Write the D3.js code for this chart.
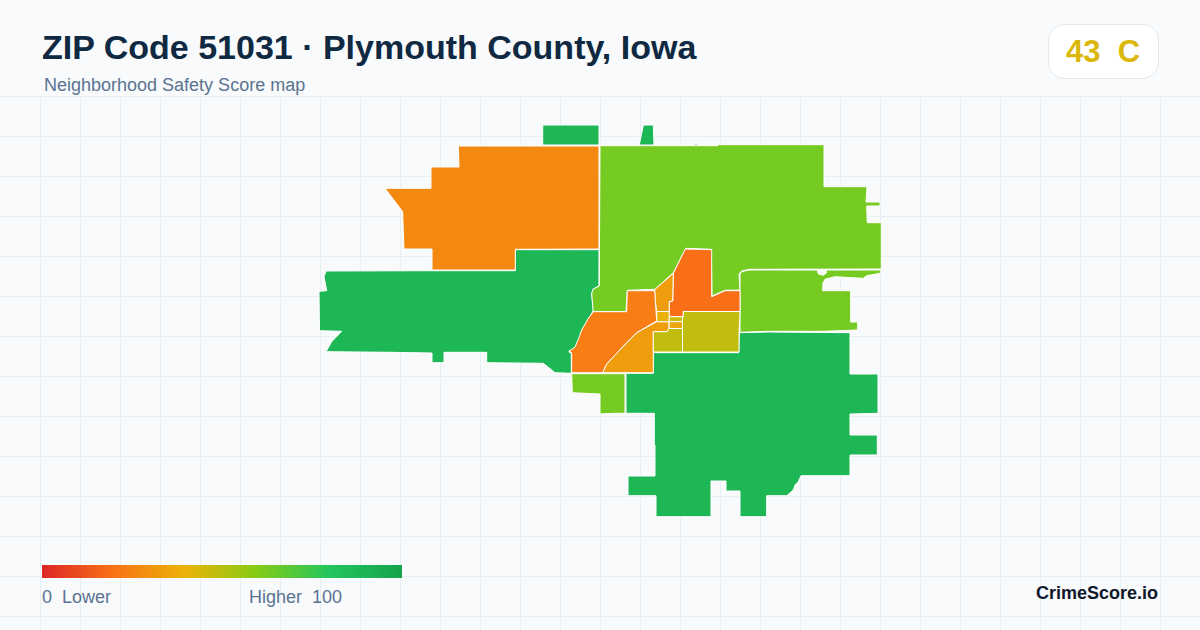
<!DOCTYPE html>
<html>
<head>
<meta charset="utf-8">
<title>ZIP Code 51031</title>
<script src="https://cdn.jsdelivr.net/npm/d3@7"></script>
<style>
  html, body { margin: 0; padding: 0; background: #f8fafc; }
  svg { display: block; }
  text { font-family: "Liberation Sans", Arial, sans-serif; white-space: pre; }
</style>
</head>
<body>
<script>
  // block group outlines in map units
  var westGreen = [[326,271],[432,270.7],[515.3,270.7],[515.3,249.7],[599,249.7],[599,286],[593.3,289],[591.7,293.3],[593.3,310],[592.7,311.7],[588.3,320],[581.7,330],[579.3,341.7],[576.7,346.7],[568.7,351.7],[571.3,353.3],[571.3,373.3],[555,372.7],[543.3,363.3],[486.7,362.7],[486.7,352.3],[444,352.3],[444,362.7],[432,362.7],[432,353],[390,352.3],[326,351.7],[331.7,341.7],[341.7,331.3],[319.5,330.7],[319,291.3],[326.7,290.7],[324,276.7]];
  var northWestOrange = [[458.3,146],[599,146],[599,249],[515.3,249.3],[515.3,270],[432,270],[432,249],[404,249],[403.3,231.7],[402.7,211.7],[385,188.3],[431,188.3],[431,167],[459,167]];
  var topTabLeft = [[542.7,125],[599,125],[599,145],[542.7,145]];
  var topTabRight = [[643.3,125],[653.3,125],[654,145],[639.3,145]];
  var topSpeck = [[694,145],[698,145],[697,143.6],[695,143.6]];
  var northLime = [[600,145.7],[717.7,145.7],[718.3,144.7],[824,144.7],[824,186.7],[867,186.7],[866,202],[880,202],[880,206],[866.7,206],[867.3,222.7],[881.3,222.7],[881.3,269],[749.3,269.3],[741.7,271],[739,274],[740,290],[725,290.3],[712,296],[711.3,249.3],[686,248.3],[673.3,272.7],[655,289.3],[627.3,290.3],[626,311.7],[593.3,311.7],[593,310],[591.7,293.3],[593.3,289],[599.3,286]];
  var eastLime = [[740,274],[742,271.5],[749.3,270],[817.3,270],[818.3,274],[823.3,275.3],[826.7,272.7],[826,270],[881.3,270],[880,273.3],[866.7,275.7],[863.3,278.3],[845,277.3],[835,276.7],[825,279.3],[823,283],[822.7,290.7],[850.7,290.7],[850.7,322],[857.7,322],[857.7,330],[823,331.3],[768.3,331.3],[740,332.3],[740,311.7]];
  var northCenterOrange = [[685.3,249],[711.7,249.7],[711.7,296.7],[725,290.7],[740,290.7],[740,311.5],[683.3,311.5],[683.3,316.7],[669.2,316.7],[669.2,301.7],[672.7,301],[673.3,273.3]];
  var wedgeOrange = [[673.3,273.3],[672.7,301],[669.2,301.7],[669.2,311.5],[656.7,311.5],[655,300],[654.7,289.6]];
  var southWestOrange = [[593.3,311.7],[626.7,311.7],[627.3,290.7],[654.7,290.7],[655.3,300],[656.7,321],[636.7,332.7],[626.7,342.7],[606.7,364],[602.7,372.7],[571.7,372.7],[571.7,352.7],[569,351],[575,347.3],[579.3,336.7],[581.7,330],[588.3,318.3]];
  var southOrange = [[602.7,372.7],[606.7,364],[626.7,342.7],[636.7,332.7],[656.7,321.7],[669,321.7],[669,329],[667,331.7],[653.3,331.7],[653.3,372.7]];
  var centerCell = [[656.7,311.5],[669.2,311.5],[669.2,321.7],[656.7,321.7]];
  var centerCellUpper = [[669.2,316.7],[682.5,316.7],[682.5,321.7],[669.2,321.7]];
  var centerCellLower = [[669.2,321.7],[682.5,321.7],[682.5,328.5],[669.2,328.5]];
  var smallOlive = [[653.3,331.7],[667,331.7],[669,328.5],[682.5,328.5],[682.5,352],[653.3,352]];
  var bigOlive = [[683.3,311.5],[740,311.5],[739,332.7],[739,352],[682.5,352],[682.5,316.7],[683.3,316.7]];
  var southLime = [[571.7,373.7],[625,373.7],[625,413.3],[613.3,413.3],[600,414],[600,394],[585,393.3],[572.3,392.7]];
  var southEastGreen = [[739.3,332.7],[768.3,332],[850,332.7],[850,374],[878,374],[878,413.3],[850,414],[850,435],[877.3,435],[877.3,455],[850,455],[850,475.7],[801,475.7],[798.3,481.7],[795,485],[793.3,490],[786.7,495.7],[766.7,495.7],[766.7,516.7],[740,516.7],[740,491],[726,491],[726,481],[711,481],[711,516.7],[656,516.7],[656,495.7],[628,495.7],[628,476],[655,476],[655,445],[654.3,445],[654.3,413.3],[626,413.3],[626,373.3],[653.3,373.3],[653.3,352.7],[738.7,352.7]];

  var blockShapes = [westGreen, northWestOrange, topTabLeft, topTabRight, topSpeck, northLime, eastLime, southEastGreen, southLime, northCenterOrange, wedgeOrange, southWestOrange, southOrange, centerCell, centerCellUpper, centerCellLower, smallOlive, bigOlive];
  var blockScores = [88, 27, 88, 88, 88, 63, 63, 88, 63, 19, 33, 23, 33, 39, 46, 36, 48, 48];

  var legendStops = [0, 20, 40, 60, 80, 100];
  var legendColors = ["#dc2626", "#f97316", "#eab308", "#84cc16", "#22c55e", "#16a34a"];
  var gridXTicks = d3.range(40, 1200, 40);
  var gridYTicks = d3.range(97, 630, 40);

  var zipTitle = "ZIP Code 51031 \u00b7 Plymouth County, Iowa";
  var subTitle = "Neighborhood Safety Score map";
  var gradeScore = 43;
  var gradeLetter = "C";
  var lowerLabel = "0  Lower";
  var higherLabel = "Higher  100";
  var brandLabel = "CrimeScore.io";

  var width = 1200, height = 630;
  var x = d3.scaleLinear().domain([0, 1200]).range([0, width]);
  var y = d3.scaleLinear().domain([0, 630]).range([0, height]);
  var color = d3.scaleLinear().domain(legendStops).range(legendColors).interpolate(d3.interpolateRgb);
  var legendX = d3.scaleLinear().domain([0, 100]).range([42, 402]);

  var svg = d3.select("body").append("svg").attr("width", width).attr("height", height);
  svg.append("rect").attr("width", width).attr("height", height).attr("fill", "#f8fafc");

  var defs = svg.append("defs");
  var grad = defs.append("linearGradient").attr("id", "legendGrad");
  grad.selectAll("stop").data(legendStops).join("stop")
    .attr("offset", function(d) { return d + "%"; })
    .attr("stop-color", function(d) { return color(d); });

  var gridColor = "#e6eff3";
  svg.append("g").selectAll("line").data(gridXTicks).join("line")
    .attr("x1", function(d) { return x(d) + 0.5; }).attr("x2", function(d) { return x(d) + 0.5; })
    .attr("y1", 97).attr("y2", height)
    .attr("stroke", gridColor);
  svg.append("g").selectAll("line").data(gridYTicks).join("line")
    .attr("y1", function(d) { return y(d) - 0.5; }).attr("y2", function(d) { return y(d) - 0.5; })
    .attr("x1", 0).attr("x2", width)
    .attr("stroke", gridColor);

  var line = d3.line().x(function(d) { return x(d[0]); }).y(function(d) { return y(d[1]); });
  svg.append("g").selectAll("path").data(blockShapes).join("path")
    .attr("d", function(d) { return line(d) + "Z"; })
    .attr("fill", function(d, i) { return color(blockScores[i]); })
    .attr("stroke", "#ffffff")
    .attr("stroke-width", 1)
    .attr("stroke-linejoin", "round");

  svg.append("text").attr("x", 42).attr("y", 59)
    .attr("font-size", 34).attr("font-weight", 700).attr("fill", "#0f2942")
    .text(zipTitle);
  svg.append("text").attr("x", 44).attr("y", 91)
    .attr("font-size", 18).attr("fill", "#5a7391")
    .text(subTitle);

  svg.append("rect").attr("x", 1048.5).attr("y", 24.5).attr("width", 110).attr("height", 54).attr("rx", 16)
    .attr("fill", "#ffffff").attr("stroke", "#e2e8f0");
  svg.append("text").attr("x", 1103).attr("y", 62).attr("text-anchor", "middle")
    .attr("font-size", 31).attr("font-weight", 700).attr("fill", color(gradeScore))
    .text(gradeScore + "  " + gradeLetter);

  svg.append("rect").attr("x", legendX(0)).attr("y", 565).attr("width", legendX(100) - legendX(0)).attr("height", 13)
    .attr("fill", "url(#legendGrad)");
  svg.append("text").attr("x", 42).attr("y", 603)
    .attr("font-size", 18).attr("fill", "#5a7391").text(lowerLabel);
  svg.append("text").attr("x", 249).attr("y", 603)
    .attr("font-size", 18).attr("fill", "#5a7391").text(higherLabel);
  svg.append("text").attr("x", 1158).attr("y", 599).attr("text-anchor", "end")
    .attr("font-size", 18).attr("font-weight", 700).attr("fill", "#0f172a").text(brandLabel);
</script>
</body>
</html>
